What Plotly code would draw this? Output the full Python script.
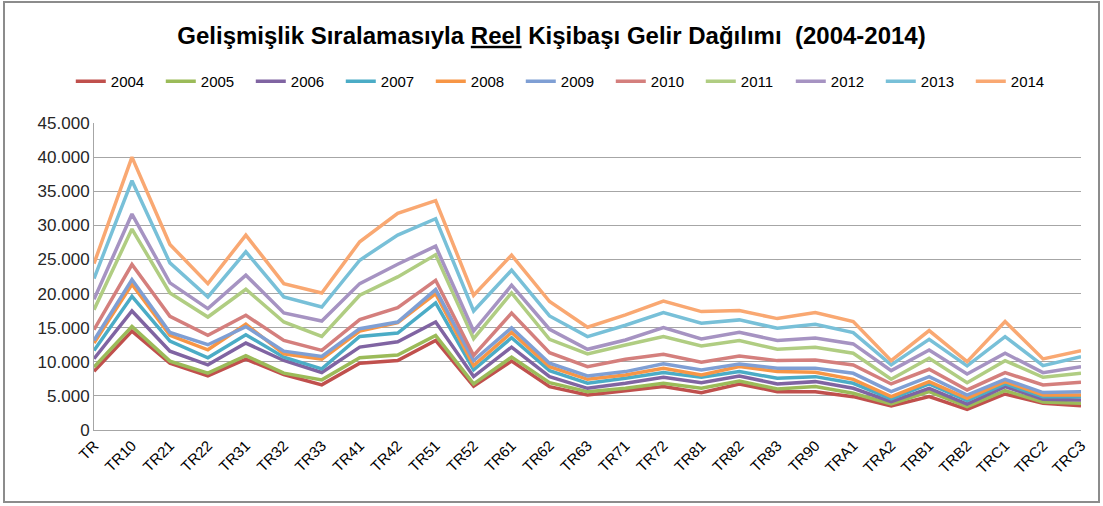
import plotly.graph_objects as go

regions = ["TR", "TR10", "TR21", "TR22", "TR31", "TR32", "TR33", "TR41", "TR42", "TR51",
           "TR52", "TR61", "TR62", "TR63", "TR71", "TR72", "TR81", "TR82", "TR83", "TR90",
           "TRA1", "TRA2", "TRB1", "TRB2", "TRC1", "TRC2", "TRC3"]

y2004 = [8620, 14500, 9800, 7940, 10390, 8130, 6620, 9800, 10190, 13130, 6420, 10090, 6360, 5130,
         5770, 6360, 5480, 6750, 5620, 5620, 4890, 3520, 4890, 3030, 5280, 3910, 3570]
y2005 = [9210, 15190, 10090, 8330, 10880, 8330, 7350, 10580, 10980, 13870, 6760, 10680, 6940, 5620,
         6110, 6850, 6110, 7190, 6010, 6360, 5380, 3810, 5620, 3420, 5770, 4110, 3910]
y2006 = [10440, 17440, 11560, 9560, 12740, 10190, 8430, 12150, 12940, 15830, 7840, 12150, 7820, 6110,
         6850, 7730, 6940, 7920, 6750, 7090, 6110, 4160, 6110, 3810, 6360, 4500, 4400]
y2007 = [11660, 19600, 13030, 10580, 13970, 10680, 8970, 13720, 14210, 18620, 8820, 13520, 8700, 6850,
         7580, 8410, 7730, 8560, 7580, 7820, 6850, 4550, 6750, 4300, 6750, 4890, 4890]
y2008 = [12740, 21360, 13870, 11760, 15500, 11170, 10390, 14500, 15730, 19990, 9460, 14300, 9290, 7430,
         8070, 9050, 8070, 9290, 8560, 8460, 7430, 4890, 7090, 4650, 7090, 5130, 5130]
y2009 = [13130, 22050, 14300, 12500, 15150, 11560, 10780, 14850, 15830, 20580, 10190, 14990, 9780, 7920,
         8560, 9700, 8800, 9680, 9050, 9050, 8310, 5620, 7820, 5130, 7430, 5480, 5620]
y2010 = [14700, 24250, 16660, 13870, 16810, 13130, 11660, 16170, 17930, 21950, 10930, 17150, 11340, 9290,
         10370, 11100, 9930, 10860, 10170, 10270, 9540, 6750, 8900, 5870, 8410, 6600, 6990]
y2011 = [17640, 29450, 20090, 16560, 20630, 15830, 13720, 19750, 22440, 25680, 13380, 20090, 13300, 11150,
         12470, 13700, 12320, 13110, 11830, 12130, 11250, 7430, 10510, 6940, 10170, 7730, 8310]
y2012 = [19160, 31650, 21560, 17790, 22690, 17150, 15970, 21460, 24300, 26950, 14500, 21220, 14770, 11830,
         13200, 15000, 13350, 14330, 13110, 13500, 12620, 8700, 11740, 8210, 11250, 8410, 9290]
y2013 = [22200, 36550, 24500, 19500, 26120, 19500, 18030, 24890, 28570, 30970, 17440, 23420, 16720, 13690,
         15350, 17210, 15650, 16140, 14910, 15500, 14280, 9540, 13300, 9390, 13690, 9440, 10760]
y2014 = [24400, 40000, 27200, 21460, 28570, 21460, 20090, 27590, 31750, 33610, 19750, 25630, 18830, 15060,
         16870, 18900, 17360, 17510, 16330, 17210, 15890, 10170, 14570, 10020, 15890, 10420, 11640]

years = ["2004", "2005", "2006", "2007", "2008", "2009", "2010", "2011", "2012", "2013", "2014"]
series = [y2004, y2005, y2006, y2007, y2008, y2009, y2010, y2011, y2012, y2013, y2014]
colors = ["#C0504D", "#9BBB59", "#8064A2", "#4BACC6", "#F79646", "#7F9FD4",
          "#D47F7D", "#B0CD82", "#A693C2", "#78C0D8", "#F9A872"]

FONT = "Liberation Sans, Arial, sans-serif"

fig = go.Figure()
for name, vals, col in zip(years, series, colors):
    fig.add_trace(go.Scatter(x=regions, y=vals, mode="lines", name=name,
                             line=dict(color=col, width=3.5)))

fig.update_layout(
    width=1103, height=506,
    paper_bgcolor="white", plot_bgcolor="white",
    margin=dict(l=94, r=22, t=123, b=76, autoexpand=False),
    separators=",.",
    font=dict(family=FONT, color="#000000"),
    title=dict(text="<b>Gelişmişlik Sıralamasıyla <u>Reel</u> Kişibaşı Gelir Dağılımı  (2004-2014)</b>",
               x=0.5, xanchor="center", y=0.93, yanchor="middle",
               font=dict(size=24, family=FONT, color="#000000")),
    legend=dict(orientation="h", x=0.478, xanchor="center", y=1.135, yanchor="middle",
                font=dict(size=15, family=FONT), itemwidth=30,
                entrywidth=45, entrywidthmode="pixels", traceorder="normal"),
    showlegend=True,
)
fig.update_yaxes(range=[0, 45000], dtick=5000, tickformat=",d", automargin=False,
                 showgrid=True, gridcolor="#A6A6A6", gridwidth=1,
                 showline=True, linecolor="#A6A6A6", zeroline=False,
                 tickfont=dict(size=17, family=FONT, color="#262626"), ticks="")
fig.update_xaxes(showgrid=False, showline=True, linecolor="#A6A6A6", automargin=False,
                 tickangle=-45, tickfont=dict(size=15, family=FONT, color="#000000"), ticks="")
fig.add_shape(type="rect", xref="paper", yref="paper",
              x0=-90/987, x1=1+18/987, y0=-72/307, y1=1+121/307,
              line=dict(color="#8C8C8C", width=2), fillcolor="rgba(0,0,0,0)", layer="below")

fig.write_html("out.html", config={"displayModeBar": False},
               post_script="document.body.style.margin='0';")
